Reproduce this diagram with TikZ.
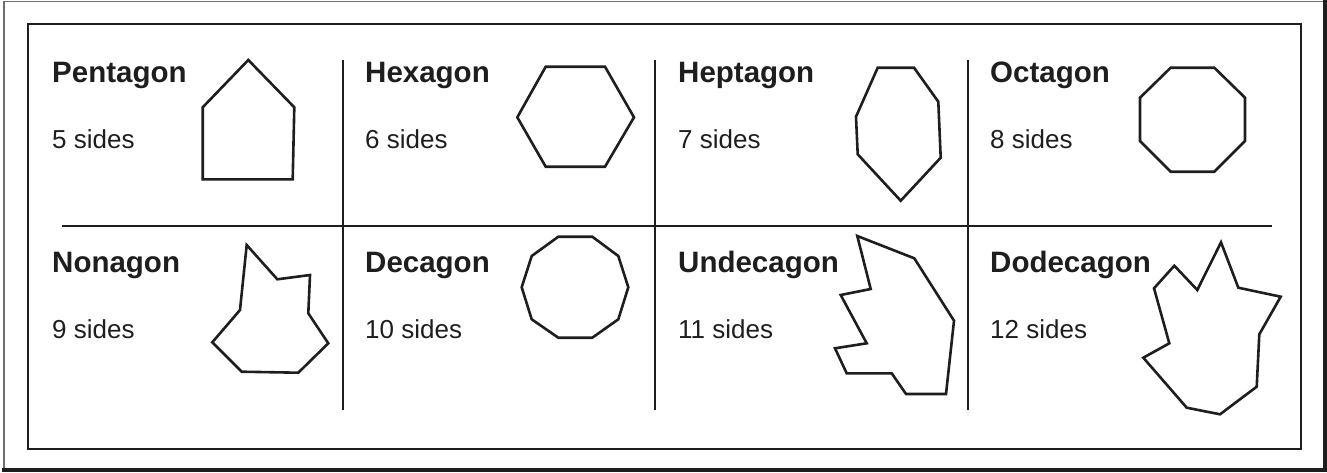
\documentclass[tikz,border=0pt]{standalone}
\usepackage{fontspec}
\setmainfont{Liberation Sans}
\usetikzlibrary{positioning}
\definecolor{inkC}  {RGB}{30, 30, 30}
\definecolor{frameC}{RGB}{110, 110, 110}
\tikzset{
  poly/.style  = {line width=2.6pt, color=inkC, line join=miter},
  grid/.style  = {line width=2.4pt, color=inkC},
  title/.style = {font=\fontsize{29.5}{32}\selectfont\bfseries, color=inkC,
                  anchor=base west, inner sep=0pt},
  sides/.style = {font=\fontsize{26}{28}\selectfont, color=inkC,
                  anchor=base west, inner sep=0pt},
}

\begin{document}
\begin{tikzpicture}[x=1pt, y=-1pt]
\useasboundingbox (0,0) rectangle (1327,472);

% ============================================================
%  Frames
% ============================================================
\draw[line width=1.5pt, color=frameC] (4,469) -- (4,1.5) -- (1324,1.5);
\draw[line width=4pt, color=inkC] (1325,0) -- (1325,470) -- (2,470);
\draw[line width=2.4pt, color=inkC] (28,24) rectangle (1301,449);

% ============================================================
%  Grid lines
% ============================================================
\coordinate (hL) at (62,226);
\coordinate (hR) at (1272,226);
\draw[grid] (hL) -- (hR);
\foreach \gx [count=\gi] in {343, 655, 968} {
  \coordinate (vT\gi) at (\gx,60);
  \coordinate (vB\gi) at (\gx,410);
  \draw[grid] (vT\gi) -- (vB\gi);
}

% ============================================================
%  Labels
% ============================================================
\foreach \tx/\nm/\tt/\ss in {52/pent/Pentagon/5, 365/hexa/Hexagon/6,
                              678/hept/Heptagon/7, 990/octa/Octagon/8} {
  \node[title] (\nm) at (\tx,82.5) {\tt};
  \node[sides] (\nm S) at (\tx,148.5) {\ss\ sides};
}
\foreach \tx/\nm/\tt/\ss in {52/nona/Nonagon/9, 365/deca/Decagon/10,
                              678/unde/Undecagon/11, 990/dode/Dodecagon/12} {
  \node[title] (\nm) at (\tx,272) {\tt};
  \node[sides] (\nm S) at (\tx,338) {\ss\ sides};
}

% ============================================================
%  Polygons -- top row
% ============================================================
% Pentagon
\draw[poly] (248.3,60) -- (294.3,107.3) -- (292.7,179.3)
  -- (202.7,179.3) -- (202.7,107.3) -- cycle;
% Hexagon
\draw[poly] (545.7,66.7) -- (605,66.7) -- (634,117.3)
  -- (605,166.7) -- (545.7,166.7) -- (517.3,117.3) -- cycle;
% Heptagon
\draw[poly] (877.7,67.7) -- (914,67.7) -- (938.3,101.7) -- (940.7,157.7)
  -- (900.7,200.7) -- (857.7,154.3) -- (856,116.7) -- cycle;
% Octagon
\draw[poly] (1170.7,67.7) -- (1214.3,67.7) -- (1245,97.7) -- (1245,141)
  -- (1214.3,171.7) -- (1170.7,171.7) -- (1140,141) -- (1140,97.7) -- cycle;

% ============================================================
%  Polygons -- bottom row
% ============================================================
% Nonagon
\draw[poly] (246.7,245) -- (277.3,279.3) -- (310,275) -- (308.3,313.3)
  -- (328.3,343.3) -- (298.3,372.7) -- (241.7,371.7) -- (212.3,342.3)
  -- (240,310) -- cycle;
% Decagon
\draw[poly] (558.3,236.7) -- (592.3,236.7) -- (618.3,256) -- (628.3,287.3)
  -- (618.3,319.3) -- (592.3,337.7) -- (558.3,337.7) -- (531.7,319.3)
  -- (521.7,287.3) -- (531.7,256) -- cycle;
% Undecagon
\draw[poly] (857.3,236) -- (914.3,258.3) -- (954,320.7) -- (946,394)
  -- (906,394) -- (891.7,373.3) -- (846.7,373.3) -- (835,348.3)
  -- (866.7,343.3) -- (840.7,295) -- (870.7,289) -- cycle;
% Dodecagon
\draw[poly] (1221,242.3) -- (1238.3,287.7) -- (1280.7,296.7) -- (1259.3,334.3)
  -- (1256.7,386.7) -- (1220,414.3) -- (1186.7,407.7) -- (1143.3,357.7)
  -- (1169.3,343.3) -- (1154,288.3) -- (1174.3,265.7) -- (1197.3,290) -- cycle;

\end{tikzpicture}
\end{document}
